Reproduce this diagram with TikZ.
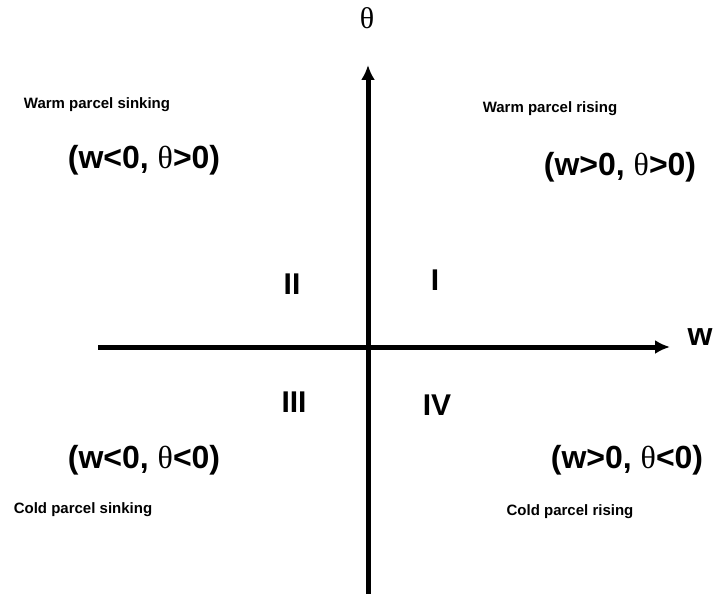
\documentclass[tikz,border=0pt]{standalone}
\usepackage{fontspec}
\setmainfont{Liberation Sans}
\newfontfamily\symfont{Liberation Serif}
\usetikzlibrary{arrows.meta}
\newcommand{\thet}{{\symfont\mdseries θ}}
\tikzset{
    axis/.style={line width=5pt, -{Latex[length=15pt,width=14pt]}},
    small/.style={font=\fontsize{15}{17}\selectfont\bfseries},
    big/.style={font=\fontsize{32}{36}\selectfont\bfseries},
    quad/.style={font=\fontsize{30}{34}\selectfont\bfseries}
}
\begin{document}
\begin{tikzpicture}[x=1pt, y=-1pt]
    \useasboundingbox (0,0) rectangle (715,594);

    % Axes
    \coordinate (xl) at (98,347);
    \coordinate (xr) at (670,347);
    \coordinate (yb) at (368,594);
    \coordinate (yt) at (368,65);
    \draw[axis] (xl) -- (xr);
    \draw[axis] (yb) -- (yt);
    \node[font=\fontsize{30}{34}\selectfont\symfont] (theta) at (367,18) {θ};
    \node[big] (w) at (700,337) {w};

    % Quadrants
    \node[quad] (q1) at (435,280) {I};
    \node[quad] (q2) at (292,284) {II};
    \node[quad] (q3) at (294,402) {III};
    \node[quad] (q4) at (437,405) {IV};

    % Regimes
    \node[small] (warmsink) at (97,105) {Warm parcel sinking};
    \node[big] (wsink) at (144,160) {(w<0, \thet>0)};
    \node[small] (warmrise) at (550,109) {Warm parcel rising};
    \node[big] (wrise) at (620,167) {(w>0, \thet>0)};
    \node[big] (csink) at (144,460) {(w<0, \thet<0)};
    \node[small] (coldsink) at (83,510) {Cold parcel sinking};
    \node[big] (crise) at (627,460) {(w>0, \thet<0)};
    \node[small] (coldrise) at (570,512) {Cold parcel rising};
\end{tikzpicture}
\end{document}
